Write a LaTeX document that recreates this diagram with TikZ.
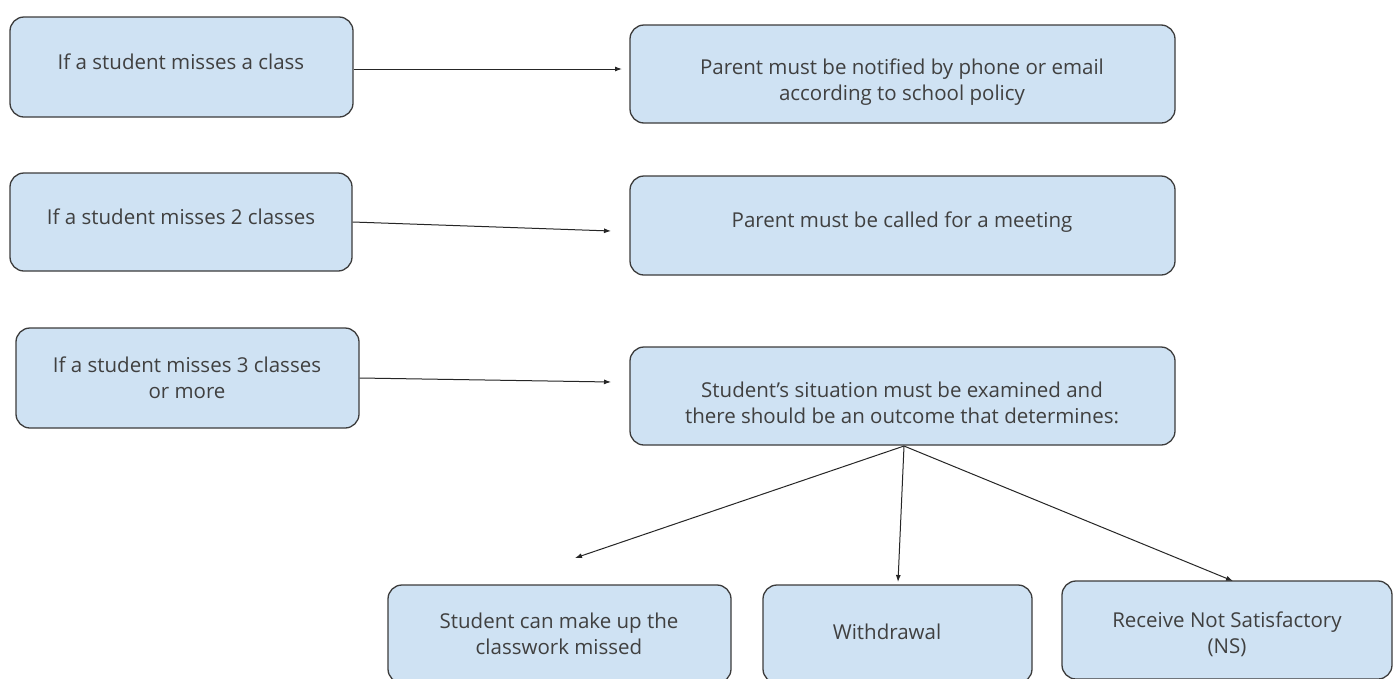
\documentclass[tikz,border=0pt]{standalone}
\usepackage{fontspec}
\setmainfont{Open Sans}
\usetikzlibrary{arrows.meta}
\definecolor{boxfill}{HTML}{CFE2F3}
\definecolor{boxline}{HTML}{3C3C3C}
\definecolor{txtcol}{HTML}{404040}
\tikzset{
  box/.style={draw=boxline, fill=boxfill, line width=1.3pt, rounded corners=14pt, inner sep=0pt},
  txt/.style={align=center, font=\fontsize{20.5}{26}\selectfont, text=txtcol, inner sep=0pt},
  conn/.style={draw=black!85, line width=1pt, -{Latex[length=7pt,width=5pt]}}
}
\begin{document}
\begin{tikzpicture}[x=1pt,y=-1pt]
\useasboundingbox[fill=white] (0,0) rectangle (1399,678);
\node[box, minimum width=343pt, minimum height=100pt] (b1) at (181.5,67) {};
\node[box, minimum width=545pt, minimum height=98pt] (b2) at (902.5,74) {};
\node[box, minimum width=342pt, minimum height=98pt] (b3) at (181,222) {};
\node[box, minimum width=545pt, minimum height=99pt] (b4) at (902.5,225.5) {};
\node[box, minimum width=343pt, minimum height=100pt] (b5) at (187.5,378) {};
\node[box, minimum width=545pt, minimum height=98pt] (b6) at (902.5,396) {};
\node[box, minimum width=343pt, minimum height=98pt] (b7) at (559.5,634) {};
\node[box, minimum width=269pt, minimum height=98pt] (b8) at (897.5,634) {};
\node[box, minimum width=330pt, minimum height=98pt] (b9) at (1227,630) {};

\node[txt] (t1) at (181,62) {If a student misses a class};
\node[txt] (t2) at (902,82) {Parent must be notified by phone or email\\according to school policy};
\node[txt] (t3) at (181,217) {If a student misses 2 classes};
\node[txt] (t4) at (902,222) {Parent must be called for a meeting};
\node[txt] (t5) at (187,378) {If a student misses 3 classes\\or more};
\node[txt] (t6) at (902,403) {Student’s situation must be examined and\\there should be an outcome that determines:};
\node[txt] (t7) at (559,634) {Student can make up the\\classwork missed};
\node[txt] (t8) at (887,632) {Withdrawal};
\node[txt] (t9) at (1227,634) {Receive Not Satisfactory\\(NS)};

\coordinate (e1) at (622,69);
\coordinate (e2) at (611,231);
\coordinate (e3) at (611,382);
\coordinate (s6) at (904,446);
\coordinate (e7) at (575,558);
\coordinate (e8) at (898,582);
\coordinate (e9) at (1233,581);

\draw[conn] (e1 -| b1.east) -- (e1);
\draw[conn] (b3.east) -- (e2);
\draw[conn] (b5.east) -- (e3);
\draw[conn] (s6) -- (e7);
\draw[conn] (s6) -- (e8);
\draw[conn] (s6) -- (e9);
\end{tikzpicture}
\end{document}
